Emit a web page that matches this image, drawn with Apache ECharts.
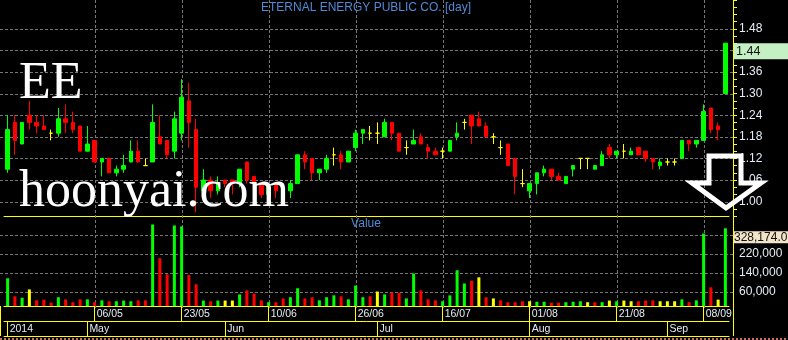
<!DOCTYPE html>
<html><head><meta charset="utf-8">
<script src="https://cdn.jsdelivr.net/npm/echarts@6/dist/echarts.min.js"></script>
<style>html,body{margin:0;padding:0;background:#000;overflow:hidden}#c{width:788px;height:340px;}</style>
</head><body><div id="c"></div>
<script>
// ---------------- DATA ----------------
const chartTitle = 'ETERNAL ENERGY PUBLIC CO. [day]';
const volumeTitle = 'Value';
const dates = [
'2014-04-16','2014-04-17','2014-04-18','2014-04-21','2014-04-22','2014-04-23','2014-04-24','2014-04-25','2014-04-28','2014-04-29','2014-04-30',
'2014-05-02','2014-05-06','2014-05-07','2014-05-08','2014-05-09','2014-05-12','2014-05-14','2014-05-15','2014-05-16','2014-05-19','2014-05-20','2014-05-21','2014-05-22','2014-05-23','2014-05-26','2014-05-27','2014-05-28','2014-05-29','2014-05-30',
'2014-06-02','2014-06-03','2014-06-04','2014-06-05','2014-06-06','2014-06-09','2014-06-10','2014-06-11','2014-06-12','2014-06-13','2014-06-16','2014-06-17','2014-06-18','2014-06-19','2014-06-20','2014-06-23','2014-06-24','2014-06-25','2014-06-26','2014-06-27','2014-06-30',
'2014-07-01','2014-07-02','2014-07-03','2014-07-04','2014-07-07','2014-07-08','2014-07-09','2014-07-10','2014-07-15','2014-07-16','2014-07-17','2014-07-18','2014-07-21','2014-07-22','2014-07-23','2014-07-24','2014-07-25','2014-07-28','2014-07-29','2014-07-30','2014-07-31',
'2014-08-01','2014-08-04','2014-08-05','2014-08-06','2014-08-07','2014-08-08','2014-08-13','2014-08-14','2014-08-15','2014-08-18','2014-08-19','2014-08-20','2014-08-21','2014-08-22','2014-08-25','2014-08-26','2014-08-27','2014-08-28','2014-08-29',
'2014-09-01','2014-09-02','2014-09-03','2014-09-04','2014-09-05','2014-09-08','2014-09-09','2014-09-10','2014-09-11'
];
const open = [
1.09,1.22,1.16,1.24,1.22,1.21,1.19,1.19,1.23,1.22,1.21,1.14,1.17,1.11,1.12,1.08,1.09,1.11,1.14,1.10,
1.11,1.18,1.17,1.14,1.19,1.28,1.20,1.03,1.06,1.03,1.06,1.06,1.05,1.11,1.07,1.05,1.02,1.05,1.04,1.03,
1.05,1.13,1.12,1.08,1.09,1.13,1.13,1.11,1.15,1.19,1.19,1.19,1.18,1.22,1.19,1.15,1.16,1.18,1.15,1.14,
1.14,1.14,1.18,1.22,1.24,1.23,1.21,1.18,1.15,1.16,1.12,1.05,1.03,1.05,1.08,1.09,1.07,1.05,1.09,1.12,
1.12,1.09,1.10,1.15,1.13,1.14,1.13,1.15,1.14,1.12,1.10,1.11,1.11,1.12,1.17,1.16,1.17,1.26,1.21,1.30
];
const close = [
1.20,1.17,1.22,1.22,1.21,1.20,1.19,1.23,1.22,1.20,1.14,1.16,1.11,1.12,1.08,1.09,1.10,1.14,1.11,1.10,
1.22,1.16,1.13,1.23,1.29,1.22,1.04,1.06,1.03,1.05,1.05,1.05,1.09,1.06,1.05,1.02,1.04,1.03,1.02,1.05,
1.13,1.11,1.08,1.09,1.12,1.13,1.11,1.14,1.19,1.20,1.19,1.19,1.22,1.19,1.14,1.15,1.17,1.16,1.14,1.13,
1.14,1.17,1.19,1.22,1.21,1.21,1.18,1.18,1.15,1.10,1.07,1.05,1.05,1.08,1.09,1.07,1.06,1.07,1.10,1.12,
1.12,1.10,1.13,1.13,1.14,1.14,1.14,1.13,1.12,1.11,1.11,1.11,1.11,1.17,1.16,1.17,1.25,1.20,1.20,1.44
];
const low = [
1.08,1.13,1.16,1.20,1.19,1.20,1.17,1.18,1.19,1.19,1.14,1.14,1.11,1.07,1.08,1.07,1.08,1.11,1.11,1.10,
1.11,1.16,1.12,1.12,1.17,1.15,0.97,1.02,1.01,1.02,1.04,1.02,1.04,1.05,1.04,1.01,1.01,1.01,1.01,1.01,
1.05,1.09,1.06,1.06,1.08,1.10,1.09,1.11,1.14,1.16,1.17,1.16,1.18,1.17,1.14,1.13,1.16,1.16,1.12,1.13,
1.12,1.14,1.17,1.20,1.16,1.21,1.18,1.16,1.13,1.10,1.02,1.04,1.01,1.02,1.07,1.06,1.06,1.05,1.07,1.09,
1.09,1.09,1.10,1.12,1.12,1.12,1.13,1.13,1.11,1.09,1.09,1.10,1.10,1.12,1.14,1.15,1.17,1.19,1.17,1.30
];
const high = [
1.24,1.24,1.22,1.28,1.24,1.24,1.20,1.26,1.27,1.25,1.21,1.21,1.17,1.12,1.12,1.10,1.13,1.17,1.17,1.12,
1.27,1.24,1.17,1.25,1.34,1.33,1.23,1.09,1.07,1.07,1.06,1.06,1.09,1.11,1.07,1.05,1.05,1.05,1.04,1.06,
1.13,1.14,1.12,1.09,1.13,1.15,1.14,1.14,1.20,1.20,1.21,1.22,1.23,1.22,1.19,1.17,1.20,1.19,1.16,1.15,
1.15,1.17,1.22,1.23,1.24,1.25,1.22,1.19,1.17,1.16,1.12,1.09,1.05,1.08,1.10,1.09,1.08,1.07,1.10,1.12,
1.12,1.10,1.14,1.16,1.14,1.16,1.15,1.15,1.14,1.12,1.12,1.12,1.12,1.17,1.17,1.17,1.27,1.26,1.22,1.44
];
const volume = [
117000,41000,35000,70000,24000,27000,14000,37000,28000,16000,28000,28000,16000,24000,20000,20000,23000,20000,24000,24000,
344000,202000,134000,340000,336000,131000,92000,23000,20000,23000,23000,23000,49000,66000,52000,24000,16000,16000,32000,37000,
75000,32000,37000,24000,37000,45000,41000,28000,86000,37000,41000,61000,49000,56000,56000,32000,137000,66000,28000,24000,
20000,45000,151000,95000,107000,121000,37000,32000,24000,16000,16000,20000,20000,18000,18000,14000,14000,16000,18000,20000,
16000,16000,16000,23000,20000,23000,20000,20000,23000,24000,20000,20000,20000,28000,16000,24000,306000,79000,27000,328174
];
const priceTicks = [1.00,1.06,1.12,1.18,1.24,1.30,1.36,1.42,1.48];
const volGridTicks = [60000,140000,220000,300000];
const volLabelTicks = [60000,140000,220000];
const dateTicks = ['06/05','23/05','10/06','26/06','16/07','01/08','21/08','08/09'];
const monthNames = ['Jan','Feb','Mar','Apr','May','Jun','Jul','Aug','Sep','Oct','Nov','Dec'];
const watermark1 = 'EE';
const watermark2 = 'hoonyai.com';

// ---------------- STYLE ----------------
const UP = '#00ff00', DOWN = '#ff0000', FLAT = '#ffff00';
const YEL = '#ffff00', GRIDC = '#767676', TXT = '#e4ecf4', BLUE = '#4f8ad6', NONE = 'rgba(0,0,0,0)';
const FONT = '"Liberation Sans", Arial, sans-serif';
const P_MIN = 0.96, P_MAX = 1.56, P_STEP = 0.02;
const V_MIN = 0, V_MAX = 380000, V_STEP = 20000;

const fmtDM = d => d.slice(8,10) + '/' + d.slice(5,7);
const isDateTick = i => dateTicks.indexOf(fmtDM(dates[i])) >= 0;
const isMonthStart = i => i === 0 || dates[i].slice(5,7) !== dates[i-1].slice(5,7);
const monthLabel = i => i === 0 ? dates[0].slice(0,4) : monthNames[+dates[i].slice(5,7) - 1];
const volColor = i => i === 0 ? UP : (close[i] > close[i-1] ? UP : (close[i] < close[i-1] ? DOWN : FLAT));

const candleData = dates.map((d,i) => {
  const v = [open[i], close[i], low[i], high[i]];
  if (open[i] === close[i]) return {value: v, itemStyle: {color: FLAT, color0: FLAT, borderColor: FLAT, borderColor0: FLAT}};
  return v;
});
const volData = volume.map((v,i) => ({value: v, itemStyle: {color: volColor(i)}}));

const chart = echarts.init(document.getElementById('c'), null, {renderer: 'canvas'});
const baseCat = {type: 'category', data: dates, boundaryGap: true, axisLabel: {show: false}, axisTick: {show: false}, splitLine: {show: false}, axisLine: {show: false}};

const option = {
  backgroundColor: '#000',
  animation: false,
  grid: [
    {left: 4, right: 59, top: 0, height: 216},
    {left: 4, right: 59, top: 216, height: 90}
  ],
  xAxis: [
    Object.assign({}, baseCat, {gridIndex: 0, axisLine: {show: true, onZero: false, lineStyle: {color: YEL, width: 1}}}),
    Object.assign({}, baseCat, {gridIndex: 1, position: 'bottom',
      axisLine: {show: true, onZero: false, lineStyle: {color: YEL}},
      axisTick: {show: true, alignWithLabel: true, length: 15, interval: (i) => isDateTick(i), lineStyle: {color: YEL}},
      axisLabel: {show: true, interval: (i) => isDateTick(i), formatter: (v) => fmtDM(v), color: TXT, fontSize: 10.5, fontFamily: FONT, align: 'left', verticalAlign: 'top', margin: 3, padding: [0,0,0,2]}
    }),
    Object.assign({}, baseCat, {gridIndex: 1, position: 'bottom', offset: 15,
      axisLine: {show: true, onZero: false, lineStyle: {color: YEL}},
      axisTick: {show: true, alignWithLabel: true, length: 15, interval: (i) => isMonthStart(i), lineStyle: {color: YEL}},
      axisLabel: {show: true, interval: (i) => isMonthStart(i), formatter: (v) => monthLabel(dates.indexOf(v)), color: TXT, fontSize: 10.5, fontFamily: FONT, align: 'left', verticalAlign: 'top', margin: 3, padding: [0,0,0,2]}
    }),
    Object.assign({}, baseCat, {gridIndex: 1, position: 'bottom', offset: 30,
      axisLine: {show: true, onZero: false, lineStyle: {color: YEL}}})
  ],
  yAxis: [
    {type: 'value', gridIndex: 0, position: 'right', offset: 4, min: P_MIN, max: P_MAX, interval: P_STEP,
     axisLine: {show: true, lineStyle: {color: YEL}},
     axisTick: {show: true, length: 4, lineStyle: {color: YEL}},
     splitLine: {show: false},
     axisLabel: {color: TXT, fontSize: 12, fontFamily: FONT, margin: 6,
       formatter: (v) => priceTicks.some(t => Math.abs(t - v) < 1e-6) ? v.toFixed(2) : ''}},
    {type: 'value', gridIndex: 1, position: 'right', offset: 4, min: V_MIN, max: V_MAX, interval: V_STEP,
     axisLine: {show: true, lineStyle: {color: YEL}},
     axisTick: {show: false},
     splitLine: {show: false},
     axisLabel: {color: TXT, fontSize: 12, fontFamily: FONT, margin: 6,
       formatter: (v) => volLabelTicks.indexOf(v) >= 0 ? v.toLocaleString('en-US') : ''}}
  ],
  series: [
    {type: 'candlestick', xAxisIndex: 0, yAxisIndex: 0, data: candleData, barWidth: 4, z: 3,
     itemStyle: {color: UP, color0: DOWN, borderColor: UP, borderColor0: DOWN, borderWidth: 1}},
    {type: 'bar', xAxisIndex: 1, yAxisIndex: 1, data: volData, barWidth: 3, z: 3}
  ],
  graphic: {elements: [
    {id: 't1', type: 'text', x: 366, y: 2, style: {text: chartTitle, fill: BLUE, font: '12px ' + FONT, align: 'center', verticalAlign: 'top'}, z: 50, silent: true},
    {id: 't2', type: 'text', x: 366, y: 218, style: {text: volumeTitle, fill: BLUE, font: '12px ' + FONT, align: 'center', verticalAlign: 'top'}, z: 50, silent: true},
    {id: 'l1', type: 'line', shape: {x1: 0.5, y1: 306, x2: 0.5, y2: 336}, style: {stroke: YEL, lineWidth: 1}, z: 50, silent: true},
    {id: 'l2', type: 'line', shape: {x1: 733.5, y1: 306, x2: 733.5, y2: 336}, style: {stroke: YEL, lineWidth: 1}, z: 50, silent: true},
    {id: 'w1', type: 'text', x: 19, y: 84, style: {text: watermark1, fill: '#ffffff', font: '52px "Liberation Serif", "Times New Roman", serif', verticalAlign: 'middle'}, z: 100, silent: true},
    {id: 'w2', type: 'text', x: 19, y: 192, style: {text: watermark2, fill: '#ffffff', font: '52px "Liberation Serif", "Times New Roman", serif', verticalAlign: 'middle'}, z: 100, silent: true},
    {id: 'arrow', type: 'polygon', shape: {points: [[709,156],[741,156],[741,183],[761,183],[726,208],[692,183],[709,183]]},
     style: {fill: NONE, stroke: '#ffffff', lineWidth: 5, lineJoin: 'miter'}, z: 90, silent: true}
  ]}
};
chart.setOption(option);

// gridlines (drawn as short dash segments) and current-value boxes, positioned through the axes' own scales
const last = close.length - 1;
const XL = 0, XR = 733;
const yTop = chart.convertToPixel({yAxisIndex: 0}, P_MAX);
const yBot = chart.convertToPixel({yAxisIndex: 1}, V_MIN);
const els = [];
function dashedH(id, y) {
  for (let x = XL, k = 0; x < XR; x += 5, k++) {
    els.push({id: id + '_' + k, type: 'rect', shape: {x: x, y: Math.round(y), width: 3, height: 1}, style: {fill: GRIDC}, z: 2, silent: true});
  }
}
function dashedV(id, x) {
  for (let y = yTop, k = 0; y < yBot; y += 5, k++) {
    els.push({id: id + '_' + k, type: 'rect', shape: {x: Math.round(x), y: Math.round(y), width: 1, height: 3}, style: {fill: GRIDC}, z: 2, silent: true});
  }
}
priceTicks.forEach((t, k) => dashedH('hp' + k, chart.convertToPixel({yAxisIndex: 0}, t)));
volGridTicks.forEach((t, k) => dashedH('hv' + k, chart.convertToPixel({yAxisIndex: 1}, t)));
dates.forEach((d, i) => { if (isDateTick(i)) dashedV('vg' + i, chart.convertToPixel({xAxisIndex: 0}, i)); });
for (let x = 0, k = 0; x < 788; x += 4, k++) {
  els.push({id: 'bd_' + k, type: 'rect', shape: {x: x, y: 338, width: 2, height: 2}, style: {fill: '#c8705a'}, z: 50, silent: true});
}
const py = chart.convertToPixel({yAxisIndex: 0}, close[last]);
const vy = chart.convertToPixel({yAxisIndex: 1}, volume[last]);
els.push(
  {id: 'pb', type: 'rect', shape: {x: 734, y: py, width: 54, height: 16}, style: {fill: '#c4f0c4'}, z: 60, silent: true},
  {id: 'pt', type: 'text', x: 736, y: py + 8, style: {text: close[last].toFixed(2), fill: '#111', font: '12.5px ' + FONT, verticalAlign: 'middle'}, z: 61, silent: true},
  {id: 'vb', type: 'rect', shape: {x: 734, y: vy + 3, width: 54, height: 12}, style: {fill: '#f2e4c8'}, z: 60, silent: true},
  {id: 'vt', type: 'text', x: 734, y: vy + 9, style: {text: volume[last].toLocaleString('en-US') + '.0', fill: '#111', font: '12px ' + FONT, verticalAlign: 'middle'}, z: 61, silent: true}
);
chart.setOption({graphic: {elements: els}});
</script>
</body></html>
